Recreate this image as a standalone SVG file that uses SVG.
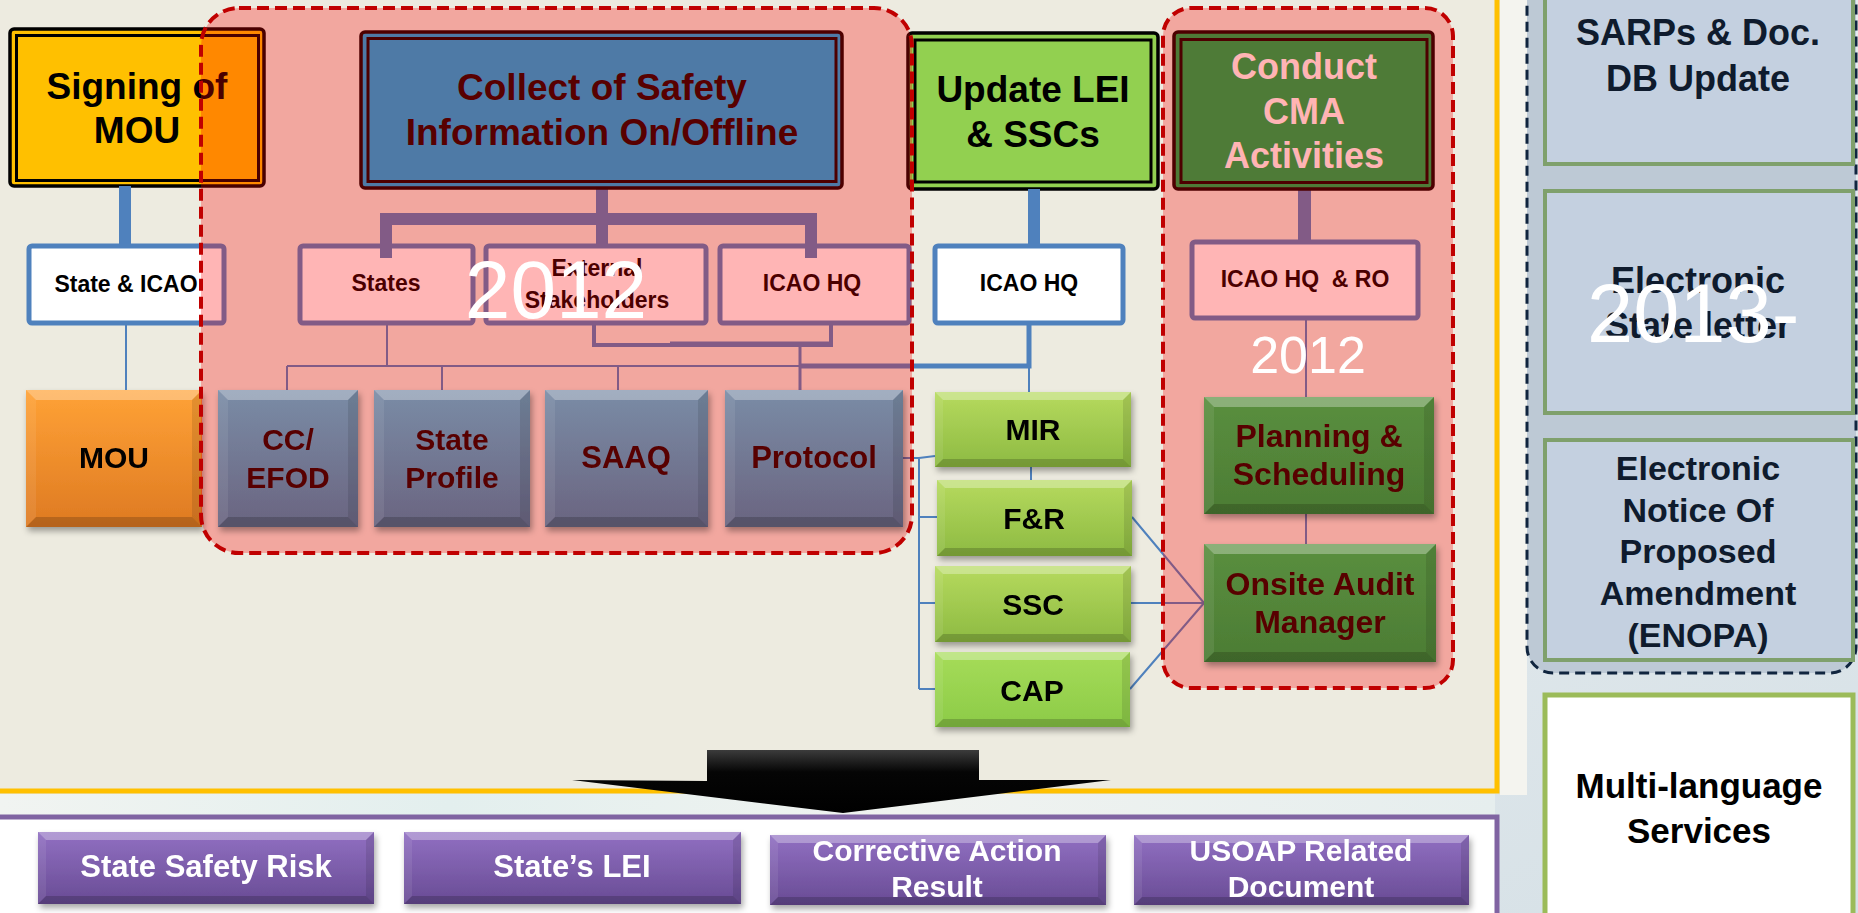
<svg xmlns="http://www.w3.org/2000/svg" width="1858" height="913" viewBox="0 0 1858 913">
<defs>
<style>
.t{font-family:'Liberation Sans',Arial,sans-serif;font-weight:bold;text-anchor:middle}
.f37{font-size:37px}.f36{font-size:36px}.f35{font-size:35px}.f34{font-size:34px}.f32{font-size:32px}.f31{font-size:31px}.f30{font-size:30px}.f23{font-size:23px}
.yr{font-family:'Liberation Sans',Arial,sans-serif;font-weight:normal;fill:#ffffff}
.mar{fill:#580000}.blk{fill:#000}.wht{fill:#fff}.nav{fill:#0F1B2D}
.sbox{fill:#fff;stroke:#4F81BD;stroke-width:5}
.bt{fill:#fff;fill-opacity:.3}.bb{fill:#000;fill-opacity:.18}.bl{fill:#fff;fill-opacity:.08}.br{fill:#000;fill-opacity:.1}
.conn path{fill:none;stroke:#4F81BD}
.region{fill:#FF0000;fill-opacity:.29;stroke:#C00000;stroke-width:4;stroke-dasharray:12 6}
.rbox{fill:#C4D0E0;stroke:#7FA06C;stroke-width:4}
</style>
<linearGradient id="gGray" x1="0" y1="0" x2="0" y2="1"><stop offset="0" stop-color="#7A8CA6"/><stop offset="1" stop-color="#6A6480"/></linearGradient>
<linearGradient id="gGreenL" x1="0" y1="0" x2="0" y2="1"><stop offset="0" stop-color="#B6DA5E"/><stop offset="1" stop-color="#8DBA42"/></linearGradient>
<linearGradient id="gGreenL2" x1="0" y1="0" x2="0" y2="1"><stop offset="0" stop-color="#A6DC58"/><stop offset="1" stop-color="#8CCB48"/></linearGradient>
<linearGradient id="gGreenD" x1="0" y1="0" x2="0" y2="1"><stop offset="0" stop-color="#5A8F3F"/><stop offset="1" stop-color="#4C7C34"/></linearGradient>
<linearGradient id="gOrange" x1="0" y1="0" x2="0" y2="1"><stop offset="0" stop-color="#FFA236"/><stop offset="1" stop-color="#DE7A22"/></linearGradient>
<linearGradient id="gPurple" x1="0" y1="0" x2="0" y2="1"><stop offset="0" stop-color="#9170C2"/><stop offset="1" stop-color="#684B94"/></linearGradient>
<linearGradient id="gArrow" x1="0" y1="0" x2="0" y2="1"><stop offset="0" stop-color="#3C3C3C"/><stop offset="0.35" stop-color="#050505"/><stop offset="1" stop-color="#000"/></linearGradient>
<linearGradient id="gSky" x1="0" y1="0" x2="1" y2="1"><stop offset="0" stop-color="#D9E2E8"/><stop offset="0.5" stop-color="#E6ECEE"/><stop offset="1" stop-color="#D5E0E6"/></linearGradient>
<linearGradient id="gStrip" x1="0" y1="0" x2="1" y2="0"><stop offset="0" stop-color="#F1F4F1"/><stop offset="0.3" stop-color="#E3EFEE"/><stop offset="0.6" stop-color="#F0F3F0"/><stop offset="1" stop-color="#E6EEEE"/></linearGradient>
<filter id="sh" x="-10%" y="-10%" width="130%" height="140%"><feDropShadow dx="2" dy="4" stdDeviation="3" flood-color="#000" flood-opacity="0.35"/></filter>
</defs>

<!-- background -->
<rect x="0" y="0" width="1858" height="913" fill="url(#gSky)"/>
<rect x="1500" y="0" width="27" height="795" fill="#F4F4EF"/>
<rect x="0" y="0" width="1497" height="791" fill="#EDEBE0"/>
<path d="M1497,0 V791 H0" fill="none" stroke="#FFC000" stroke-width="5"/>
<rect x="0" y="794" width="1495" height="21" fill="url(#gStrip)"/>
<rect x="0" y="817" width="1497" height="96" fill="#ffffff"/>
<path d="M0,817 H1497 V913" fill="none" stroke="#8064A2" stroke-width="5"/>

<!-- right panel -->
<g id="future-group">
<rect x="1527" y="-40" width="329" height="713" rx="26" fill="#BDC9D5" stroke="#10253F" stroke-width="3" stroke-dasharray="10 6"/>
<g id="sarps"><rect class="rbox" x="1545" y="-10" width="308" height="174"/>
<text class="t f36 nav" x="1698" y="45">SARPs &amp; Doc.</text><text class="t f36 nav" x="1698" y="91">DB Update</text></g>
<g id="estate"><rect class="rbox" x="1545" y="191" width="308" height="222"/>
<text class="t f36 nav" x="1698" y="293">Electronic</text><text class="t f36 nav" x="1698" y="338">State letter</text></g>
<g id="enopa"><rect class="rbox" x="1545" y="440" width="308" height="220"/>
<text class="t f34 nav" x="1698" y="480">Electronic</text><text class="t f34 nav" x="1698" y="522">Notice Of</text><text class="t f34 nav" x="1698" y="563">Proposed</text><text class="t f34 nav" x="1698" y="605">Amendment</text><text class="t f34 nav" x="1698" y="647">(ENOPA)</text></g>
</g>
<g id="multilang"><rect x="1545" y="695" width="308" height="240" fill="#ffffff" stroke="#9BBB59" stroke-width="5"/>
<text class="t f35 blk" x="1699" y="798">Multi-language</text><text class="t f35 blk" x="1699" y="843">Services</text></g>

<!-- nodes under the highlight overlay -->
<g id="signing">
<rect x="10" y="29" width="254" height="157" rx="4" fill="#FFC000" stroke="#000" stroke-width="3.5"/>
<rect x="16.5" y="35.5" width="242" height="145" fill="#FFC000" stroke="#000" stroke-width="3"/>
<text class="t f37 blk" x="137" y="99">Signing of</text><text class="t f37 blk" x="137" y="143">MOU</text>
</g>
<g id="update-lei">
<rect x="908" y="33" width="250" height="156" rx="4" fill="#92D050" stroke="#000" stroke-width="3.5"/>
<rect x="915" y="40" width="236" height="142" fill="#92D050" stroke="#000" stroke-width="3"/>
<text class="t f37 blk" x="1033" y="102">Update LEI</text><text class="t f37 blk" x="1033" y="147">&amp; SSCs</text>
</g>
<g id="state-icao"><rect class="sbox" x="29" y="246" width="195" height="77" rx="3"/><text class="t f23 blk" x="126" y="292">State &amp; ICAO</text></g>
<g id="states"><rect class="sbox" x="300" y="246" width="173" height="77" rx="3"/><text class="t f23 blk" x="386" y="291">States</text></g>
<g id="external"><rect class="sbox" x="486" y="246" width="220" height="77" rx="3"/><text class="t f23 blk" x="597" y="276">External</text><text class="t f23 blk" x="597" y="308">Stakeholders</text></g>
<g id="icao-hq-1"><rect class="sbox" x="720" y="246" width="189" height="77" rx="3"/><text class="t f23 blk" x="812" y="291">ICAO HQ</text></g>
<g id="icao-hq-2"><rect class="sbox" x="935" y="246" width="188" height="77" rx="3"/><text class="t f23 blk" x="1029" y="291">ICAO HQ</text></g>
<g id="icao-hq-ro"><rect class="sbox" x="1192" y="242" width="226" height="76" rx="3"/><text class="t f23 blk" x="1305" y="287" xml:space="preserve">ICAO HQ  &amp; RO</text></g>
<g id="mou" filter="url(#sh)">
<rect x="26" y="390" width="176" height="137" fill="url(#gOrange)"/>
<polygon class="bt" points="26,390 202,390 192,400 36,400"/><polygon class="bb" points="26,527 202,527 192,517 36,517"/>
<polygon class="bl" points="26,390 36,400 36,517 26,527"/><polygon class="br" points="202,390 192,400 192,517 202,527"/>
<text class="t f30 blk" x="114" y="468">MOU</text>
</g>

<!-- connectors -->
<g id="connectors" class="conn">
<path d="M125,186 V246" stroke-width="12"/>
<path d="M1034,189 V246" stroke-width="12"/>
<path d="M602,188 V247 M380,219 H817 M386,219 V258 M811,219 V258" stroke-width="12"/>
<path d="M1304.5,189 V242" stroke-width="13"/>
<path d="M126,323 V390" stroke-width="2"/>
<path d="M387,323 V366 M287,366 H800 M287,366 V390 M442,366 V390 M618,366 V390" stroke-width="2"/>
<path d="M1029,323 V366 H800" stroke-width="5"/>
<path d="M800,345 V390" stroke-width="3"/>
<path d="M1029,366 V392 M1031,467 V480" stroke-width="2"/>
<path d="M903,458 H919 L935,456 M919,458 V689 M919,517 H937 M919,603 H935 M919,689 H935" stroke-width="2"/>
<path d="M1132,517 L1204,603 M1131,603 H1204 M1130,689 L1204,603" stroke-width="2"/>
<path d="M1306,318 V397 M1306,514 V544" stroke-width="2"/>
<path d="M594,323 V345 H831 V323" stroke="#8A7F78" stroke-width="4"/>
<path d="M670,344 H831" stroke="#978752" stroke-width="5"/>
</g>

<!-- highlighted regions -->
<rect id="region-2012-a" class="region" x="201" y="8" width="711" height="545" rx="38"/>
<rect id="region-2012-b" class="region" x="1163" y="8" width="290" height="680" rx="28"/>

<!-- nodes above overlay -->
<g id="collect">
<rect x="361" y="32" width="481" height="156" rx="4" fill="#4E7AA6" stroke="#4D0000" stroke-width="3.5"/>
<rect x="368" y="38.5" width="468" height="143" fill="#4E7AA6" stroke="#4D0000" stroke-width="3"/>
<text class="t f37 mar" x="602" y="100">Collect of Safety</text><text class="t f37 mar" x="602" y="145">Information On/Offline</text>
</g>
<g id="conduct">
<rect x="1174" y="32" width="259" height="157" rx="4" fill="#4E7B37" stroke="#4D0000" stroke-width="3.5"/>
<rect x="1181" y="39.5" width="246" height="143" fill="#4E7B37" stroke="#4D0000" stroke-width="3"/>
<text class="t f36" fill="#FFB4B4" x="1304" y="79">Conduct</text><text class="t f36" fill="#FFB4B4" x="1304" y="124">CMA</text><text class="t f36" fill="#FFB4B4" x="1304" y="168">Activities</text>
</g>
<g id="cc-efod" filter="url(#sh)">
<rect x="218" y="390" width="140" height="137" fill="url(#gGray)"/>
<polygon class="bt" points="218,390 358,390 348,400 228,400"/><polygon class="bb" points="218,527 358,527 348,517 228,517"/>
<polygon class="bl" points="218,390 228,400 228,517 218,527"/><polygon class="br" points="358,390 348,400 348,517 358,527"/>
<text class="t f30 mar" x="288" y="450">CC/</text><text class="t f30 mar" x="288" y="488">EFOD</text>
</g>
<g id="state-profile" filter="url(#sh)">
<rect x="374" y="390" width="156" height="137" fill="url(#gGray)"/>
<polygon class="bt" points="374,390 530,390 520,400 384,400"/><polygon class="bb" points="374,527 530,527 520,517 384,517"/>
<polygon class="bl" points="374,390 384,400 384,517 374,527"/><polygon class="br" points="530,390 520,400 520,517 530,527"/>
<text class="t f30 mar" x="452" y="450">State</text><text class="t f30 mar" x="452" y="488">Profile</text>
</g>
<g id="saaq" filter="url(#sh)">
<rect x="545" y="390" width="163" height="137" fill="url(#gGray)"/>
<polygon class="bt" points="545,390 708,390 698,400 555,400"/><polygon class="bb" points="545,527 708,527 698,517 555,517"/>
<polygon class="bl" points="545,390 555,400 555,517 545,527"/><polygon class="br" points="708,390 698,400 698,517 708,527"/>
<text class="t f31 mar" x="626" y="468">SAAQ</text>
</g>
<g id="protocol" filter="url(#sh)">
<rect x="725" y="390" width="178" height="137" fill="url(#gGray)"/>
<polygon class="bt" points="725,390 903,390 893,400 735,400"/><polygon class="bb" points="725,527 903,527 893,517 735,517"/>
<polygon class="bl" points="725,390 735,400 735,517 725,527"/><polygon class="br" points="903,390 893,400 893,517 903,527"/>
<text class="t f31 mar" x="814" y="468">Protocol</text>
</g>
<g id="mir" filter="url(#sh)">
<rect x="935" y="392" width="196" height="75" fill="url(#gGreenL)"/>
<polygon class="bt" points="935,392 1131,392 1123,400 943,400"/><polygon class="bb" points="935,467 1131,467 1123,459 943,459"/>
<polygon class="bl" points="935,392 943,400 943,459 935,467"/><polygon class="br" points="1131,392 1123,400 1123,459 1131,467"/>
<text class="t f30 blk" x="1033" y="440">MIR</text>
</g>
<g id="fr" filter="url(#sh)">
<rect x="937" y="480" width="195" height="76" fill="url(#gGreenL)"/>
<polygon class="bt" points="937,480 1132,480 1124,488 945,488"/><polygon class="bb" points="937,556 1132,556 1124,548 945,548"/>
<polygon class="bl" points="937,480 945,488 945,548 937,556"/><polygon class="br" points="1132,480 1124,488 1124,548 1132,556"/>
<text class="t f30 blk" x="1034" y="529">F&amp;R</text>
</g>
<g id="ssc" filter="url(#sh)">
<rect x="935" y="566" width="196" height="76" fill="url(#gGreenL)"/>
<polygon class="bt" points="935,566 1131,566 1123,574 943,574"/><polygon class="bb" points="935,642 1131,642 1123,634 943,634"/>
<polygon class="bl" points="935,566 943,574 943,634 935,642"/><polygon class="br" points="1131,566 1123,574 1123,634 1131,642"/>
<text class="t f30 blk" x="1033" y="615">SSC</text>
</g>
<g id="cap" filter="url(#sh)">
<rect x="935" y="652" width="195" height="75" fill="url(#gGreenL2)"/>
<polygon class="bt" points="935,652 1130,652 1122,660 943,660"/><polygon class="bb" points="935,727 1130,727 1122,719 943,719"/>
<polygon class="bl" points="935,652 943,660 943,719 935,727"/><polygon class="br" points="1130,652 1122,660 1122,719 1130,727"/>
<text class="t f30 blk" x="1032" y="701">CAP</text>
</g>
<g id="planning" filter="url(#sh)">
<rect x="1204" y="397" width="230" height="117" fill="url(#gGreenD)"/>
<polygon class="bt" points="1204,397 1434,397 1424,407 1214,407"/><polygon class="bb" points="1204,514 1434,514 1424,504 1214,504"/>
<polygon class="bl" points="1204,397 1214,407 1214,504 1204,514"/><polygon class="br" points="1434,397 1424,407 1424,504 1434,514"/>
<text class="t f32 mar" x="1319" y="447">Planning &amp;</text><text class="t f32 mar" x="1319" y="485">Scheduling</text>
</g>
<g id="onsite" filter="url(#sh)">
<rect x="1204" y="544" width="232" height="118" fill="url(#gGreenD)"/>
<polygon class="bt" points="1204,544 1436,544 1426,554 1214,554"/><polygon class="bb" points="1204,662 1436,662 1426,652 1214,652"/>
<polygon class="bl" points="1204,544 1214,554 1214,652 1204,662"/><polygon class="br" points="1436,544 1426,554 1426,652 1436,662"/>
<text class="t f32 mar" x="1320" y="595">Onsite Audit</text><text class="t f32 mar" x="1320" y="633">Manager</text>
</g>

<!-- output arrow -->
<g id="output-arrow">
<polygon points="707,750 979,750 979,780 1111,780 843,813 572,780 707,781" fill="url(#gArrow)"/>
</g>

<!-- outputs -->
<g id="state-safety-risk" filter="url(#sh)">
<rect x="38" y="832" width="336" height="72" fill="url(#gPurple)"/>
<polygon class="bt" points="38,832 374,832 366,840 46,840"/><polygon class="bb" points="38,904 374,904 366,896 46,896"/>
<polygon class="bl" points="38,832 46,840 46,896 38,904"/><polygon class="br" points="374,832 366,840 366,896 374,904"/>
<text class="t f31 wht" x="206" y="877">State Safety Risk</text>
</g>
<g id="states-lei" filter="url(#sh)">
<rect x="404" y="832" width="337" height="72" fill="url(#gPurple)"/>
<polygon class="bt" points="404,832 741,832 733,840 412,840"/><polygon class="bb" points="404,904 741,904 733,896 412,896"/>
<polygon class="bl" points="404,832 412,840 412,896 404,904"/><polygon class="br" points="741,832 733,840 733,896 741,904"/>
<text class="t f31 wht" x="572" y="877">State’s LEI</text>
</g>
<g id="corrective-action" filter="url(#sh)">
<rect x="770" y="835" width="336" height="70" fill="url(#gPurple)"/>
<polygon class="bt" points="770,835 1106,835 1098,843 778,843"/><polygon class="bb" points="770,905 1106,905 1098,897 778,897"/>
<polygon class="bl" points="770,835 778,843 778,897 770,905"/><polygon class="br" points="1106,835 1098,843 1098,897 1106,905"/>
<text class="t f30 wht" x="937" y="861">Corrective Action</text><text class="t f30 wht" x="937" y="897">Result</text>
</g>
<g id="usoap-doc" filter="url(#sh)">
<rect x="1134" y="835" width="335" height="70" fill="url(#gPurple)"/>
<polygon class="bt" points="1134,835 1469,835 1461,843 1142,843"/><polygon class="bb" points="1134,905 1469,905 1461,897 1142,897"/>
<polygon class="bl" points="1134,835 1142,843 1142,897 1134,905"/><polygon class="br" points="1469,835 1461,843 1461,897 1469,905"/>
<text class="t f30 wht" x="1301" y="861">USOAP Related</text><text class="t f30 wht" x="1301" y="897">Document</text>
</g>

<!-- year labels -->
<text class="yr" x="556" y="318" font-size="82" text-anchor="middle">2012</text>
<text class="yr" x="1308" y="373" font-size="52" text-anchor="middle">2012</text>
<text class="yr" x="1587" y="342" font-size="83">2013-</text>
</svg>
